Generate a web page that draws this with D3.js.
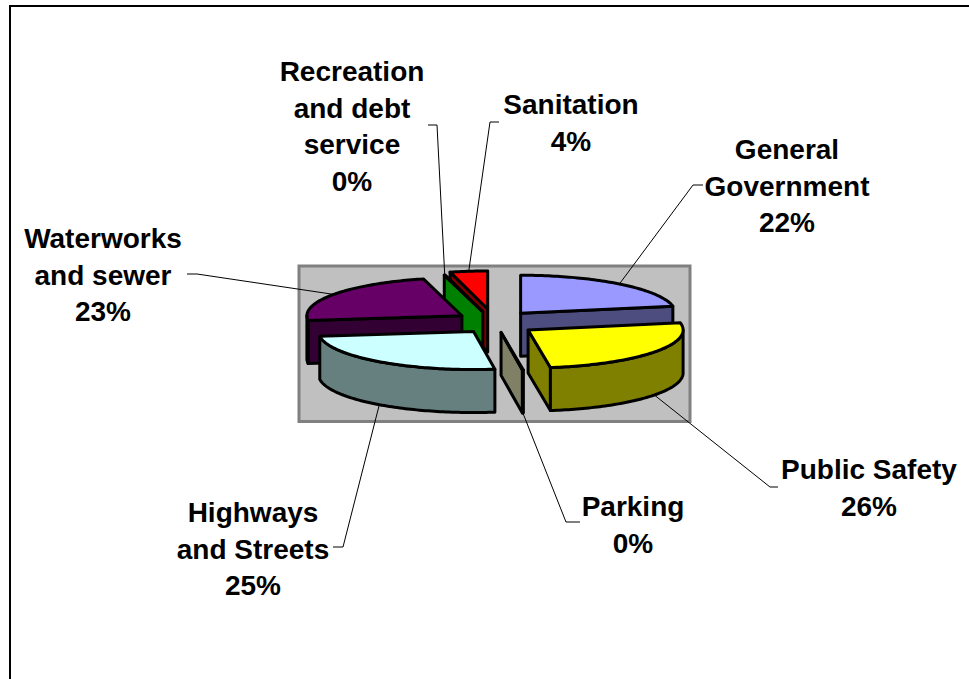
<!DOCTYPE html>
<html>
<head>
<meta charset="utf-8">
<script src="https://cdn.jsdelivr.net/npm/d3@7"></script>
<style>
  html, body { margin: 0; padding: 0; background: #fff; overflow: hidden; }
  text { font-family: "Liberation Sans", Arial, sans-serif; font-weight: bold; font-size: 28px; fill: #000; text-anchor: middle; }
</style>
</head>
<body>
<div id="chart"></div>
<script>
// chart data, clockwise from 12 o'clock
const categories = ['General Government', 'Public Safety', 'Parking', 'Highways and Streets', 'Waterworks and sewer', 'Recreation and debt service', 'Sanitation']
const values = [22, 25.7, 0.1, 25.2, 23, 0.1, 3.9]
const topColors = ['#9999ff', '#ffff00', '#ffffcc', '#ccffff', '#660066', '#00ff00', '#ff0000']
const sideColors = ['#4d4d80', '#808000', '#808066', '#668080', '#330033', '#008000', '#800000']
const labelLines = [['General', 'Government'], ['Public Safety'], ['Parking'], ['Highways', 'and Streets'], ['Waterworks', 'and sewer'], ['Recreation', 'and debt', 'service'], ['Sanitation']]

// layout
const width = 969
const height = 679
const center = { x: 495.5, y: 322.5 }
const rx = 155, ry = 38, depth = 43
const explodeX = 39.4, explodeY = 12
const lineHeight = 36.6
const paintOrder = [6, 5, 4, 0, 2, 1, 3]
// small per slice correction on top of the explode
const nudge = [[0, 0], [0.5, 0.5], [0, -2], [2, -0.5], [-1, 0], [-3, 1], [-3, -1.6]]
// label centre x, first baseline y, elbow and leader end
const labelPos = [
    { x: 787, y: 159, elbow: [693, 185], end: [703, 185] },
    { x: 869, y: 479, elbow: [770, 487], end: [778, 487] },
    { x: 633, y: 516, elbow: [566, 522], end: [580, 522] },
    { x: 253, y: 522, elbow: [343, 547], end: [333, 547] },
    { x: 103, y: 248, elbow: [197, 274], end: [187, 274] },
    { x: 352, y: 81, elbow: [437, 125], end: [428, 125] },
    { x: 571, y: 114, elbow: [490, 122], end: [499, 122] }
]

const svg = d3.select('#chart')
    .append('svg')
    .attr('width', width)
    .attr('height', height)

svg.append('rect')
    .attr('x', 299).attr('y', 266)
    .attr('width', 391).attr('height', 155.5)
    .attr('fill', '#c0c0c0')
    .attr('stroke', '#808080')
    .attr('stroke-width', 3)

// chart frame runs off the right and bottom of the picture
svg.append('path')
    .attr('d', `M10,${height + 5}V6H${width + 5}`)
    .attr('fill', 'none')
    .attr('stroke', '#000')
    .attr('stroke-width', 2)

const pie = d3.pie().value(d => d).sort(null)
const slices = pie(values)
const total = d3.sum(values)

const xScale = d3.scaleLinear().domain([-1, 1]).range([-rx, rx])
const yScale = d3.scaleLinear().domain([-1, 1]).range([-ry, ry])
const line = d3.line().x(d => d[0]).y(d => d[1])

function apex(d) {
    const mid = (d.startAngle + d.endAngle) / 2
    return [
        center.x + explodeX * Math.sin(mid) + nudge[d.index][0],
        center.y - explodeY * Math.cos(mid) + nudge[d.index][1]
    ]
}

function rim(d, angle, drop = 0) {
    const a = apex(d)
    return [a[0] + xScale(Math.sin(angle)), a[1] + yScale(-Math.cos(angle)) + drop]
}

function arcPoints(d, from, to, drop = 0) {
    const n = Math.max(2, Math.ceil((to - from) / 0.02))
    return d3.range(n + 1).map(i => rim(d, from + (to - from) * i / n, drop))
}

const slice = svg.selectAll('g.slice')
    .data(paintOrder.map(i => slices[i]))
    .join('g')
    .attr('class', 'slice')
    .attr('stroke', '#000')
    .attr('stroke-width', 3)
    .attr('stroke-linejoin', 'round')

slice.each(function (d) {
    const g = d3.select(this)
    const side = sideColors[d.index]
    const a = apex(d)
    const low = [a[0], a[1] + depth]

    // cut faces, only the ones turned toward the viewer
    const cuts = []
    if (Math.sin(d.startAngle) < 0) cuts.push(d.startAngle)
    if (Math.sin(d.endAngle) > 0) cuts.push(d.endAngle)
    cuts.forEach(angle => {
        g.append('path')
            .attr('d', line([a, rim(d, angle), rim(d, angle, depth), low]) + 'Z')
            .attr('fill', side)
    })

    // outer wall, front half only
    const from = Math.max(d.startAngle, Math.PI / 2)
    const to = Math.min(d.endAngle, Math.PI * 3 / 2)
    if (to > from) {
        const upper = arcPoints(d, from, to)
        const lower = arcPoints(d, from, to, depth).reverse()
        g.append('path')
            .attr('d', line(upper.concat(lower)) + 'Z')
            .attr('fill', side)
    }

    // top surface
    g.append('path')
        .attr('d', line([a].concat(arcPoints(d, d.startAngle, d.endAngle))) + 'Z')
        .attr('fill', topColors[d.index])
})

// leaders start on the rim at each slice's middle angle
slices.forEach((d, i) => {
    const mid = (d.startAngle + d.endAngle) / 2
    const front = Math.cos(mid) < 0
    const start = rim(d, mid, front ? depth : 0)
    svg.append('path')
        .attr('d', line([start, labelPos[i].elbow, labelPos[i].end]))
        .attr('fill', 'none')
        .attr('stroke', '#000')
        .attr('stroke-width', 1)
})

categories.forEach((name, i) => {
    const rows = labelLines[i].concat(`${Math.round(values[i] / total * 100)}%`)
    const label = svg.append('text').attr('data-name', name)
    rows.forEach((row, r) => {
        label.append('tspan')
            .attr('x', labelPos[i].x)
            .attr('y', labelPos[i].y + r * lineHeight)
            .text(row)
    })
})
</script>
</body>
</html>
